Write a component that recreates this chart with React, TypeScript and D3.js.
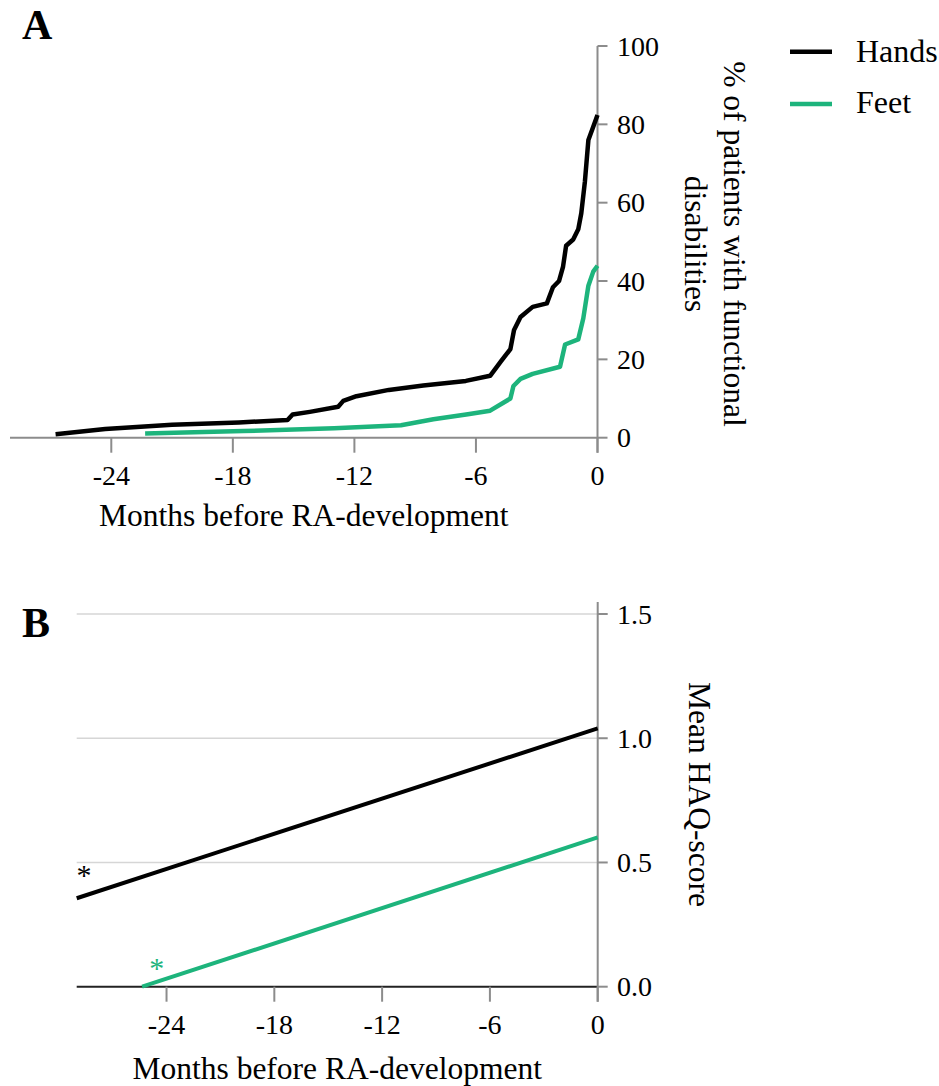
import * as d3 from 'd3';

// Panel A: cumulative % of patients with functional disabilities
const handsMonths = [-26.75, -24.3, -21, -17.7, -15.3, -15.05, -14.2, -12.8, -12.55, -11.9, -10.3, -8.6, -6.5, -5.3, -4.75, -4.3, -4.12, -3.8, -3.2, -2.5, -2.2, -1.9, -1.7, -1.55, -1.2, -0.95, -0.8, -0.62, -0.45, -0.21, 0];
const handsPct = [0.9, 2.2, 3.3, 3.9, 4.5, 5.9, 6.6, 7.9, 9.4, 10.6, 12.2, 13.3, 14.5, 15.8, 19.6, 22.6, 27.5, 30.8, 33.4, 34.3, 38.4, 40.0, 43.7, 49.0, 50.6, 53.2, 57.3, 65.5, 76.0, 79.4, 82.4];

const feetMonths = [-22.33, -17.5, -13, -9.7, -8.1, -6.4, -5.3, -4.3, -4.15, -3.8, -3.2, -1.85, -1.6, -0.95, -0.7, -0.45, -0.21, 0];
const feetPct = [1.1, 1.7, 2.4, 3.2, 4.7, 6.0, 6.9, 10.0, 13.2, 15.0, 16.3, 18.1, 23.8, 25.1, 30.5, 38.8, 42.4, 43.9];

// Panel B: fitted mean HAQ-score
const haqHandsMonths = [-29, 0];
const haqHands = [0.356, 1.04];
const haqFeetMonths = [-25.36, 0];
const haqFeet = [0, 0.601];

// significance markers (month, score)
const starMonths = [-28.6, -24.55];
const starScores = [0.41, 0.035];

const monthTicks = [-24, -18, -12, -6, 0];
const pctTicks = [0, 20, 40, 60, 80, 100];
const haqTicks = [0, 0.5, 1.0, 1.5];

const GREEN = '#1db47c';
const AXIS = '#8c8c8c';
const FONT = '"Liberation Serif", "Times New Roman", serif';

export default function App() {
  const xA = d3.scaleLinear().domain([-29, 0]).range([10, 597.5]);
  const yA = d3.scaleLinear().domain([0, 100]).range([437.7, 46]);
  const xB = d3.scaleLinear().domain([-29, 0]).range([76.7, 597.7]);
  const yB = d3.scaleLinear().domain([0, 1.5]).range([986.7, 614]);

  const handsPath = d3.line<number>()
    .x((d) => xA(d))
    .y((_, i) => yA(handsPct[i]))(handsMonths);
  const feetPath = d3.line<number>()
    .x((d) => xA(d))
    .y((_, i) => yA(feetPct[i]))(feetMonths);
  const haqHandsPath = d3.line<number>()
    .x((d) => xB(d))
    .y((_, i) => yB(haqHands[i]))(haqHandsMonths);
  const haqFeetPath = d3.line<number>()
    .x((d) => xB(d))
    .y((_, i) => yB(haqFeet[i]))(haqFeetMonths);

  const x0A = xA(0);
  const x0B = xB(0);

  return (
    <svg
      width={939}
      height={1086}
      style={{ position: 'absolute', left: 0, top: 0, background: '#fff' }}
      fontFamily={FONT}
    >
      {/* ---------- Panel A ---------- */}
      <text x={22} y={39} fontSize={42} fontWeight="bold">A</text>

      {/* x axis */}
      <line x1={xA(-29)} x2={x0A} y1={yA(0)} y2={yA(0)} stroke={AXIS} strokeWidth={2} />
      {monthTicks.map((t) => (
        <g key={'ax' + t}>
          <line x1={xA(t)} x2={xA(t)} y1={yA(0)} y2={yA(0) + 15} stroke={AXIS} strokeWidth={2} />
          <text x={xA(t)} y={485} fontSize={28} textAnchor="middle">{t}</text>
        </g>
      ))}
      <text x={(xA(-29) + x0A) / 2} y={526} fontSize={31.5} textAnchor="middle">Months before RA-development</text>

      {/* y axis on the right */}
      <line x1={x0A} x2={x0A} y1={yA(100)} y2={yA(0) + 15} stroke={AXIS} strokeWidth={2} />
      {pctTicks.map((t) => (
        <g key={'ay' + t}>
          <line x1={x0A} x2={x0A + 10} y1={yA(t)} y2={yA(t)} stroke={AXIS} strokeWidth={2} />
          <text x={617} y={yA(t)} dy="0.34em" fontSize={28}>{t}</text>
        </g>
      ))}
      <text transform={`translate(723.5,244) rotate(90)`} fontSize={31.5} textAnchor="middle">% of patients with functional</text>
      <text transform={`translate(685,244) rotate(90)`} fontSize={31.5} textAnchor="middle">disabilities</text>

      <path d={feetPath ?? ''} fill="none" stroke={GREEN} strokeWidth={4.5} strokeLinejoin="round" />
      <path d={handsPath ?? ''} fill="none" stroke="#000" strokeWidth={4.5} strokeLinejoin="round" />

      {/* legend */}
      <line x1={790} x2={832} y1={51.7} y2={51.7} stroke="#000" strokeWidth={4.5} />
      <text x={856} y={61.7} fontSize={32}>Hands</text>
      <line x1={790} x2={832} y1={104} y2={104} stroke={GREEN} strokeWidth={4.5} />
      <text x={856} y={113.3} fontSize={32}>Feet</text>

      {/* ---------- Panel B ---------- */}
      <text x={22} y={637} fontSize={42} fontWeight="bold">B</text>

      {haqTicks.filter((t) => t > 0).map((t) => (
        <line key={'g' + t} x1={xB(-29)} x2={x0B} y1={yB(t)} y2={yB(t)} stroke="#d6d6d6" strokeWidth={1.5} />
      ))}
      <line x1={xB(-29)} x2={x0B} y1={yB(0)} y2={yB(0)} stroke="#222" strokeWidth={2} />
      {monthTicks.map((t) => (
        <g key={'bx' + t}>
          <line x1={xB(t)} x2={xB(t)} y1={yB(0)} y2={yB(0) + 15} stroke={AXIS} strokeWidth={2} />
          <text x={xB(t)} y={1034} fontSize={28} textAnchor="middle">{t}</text>
        </g>
      ))}
      <text x={(xB(-29) + x0B) / 2} y={1079} fontSize={31.5} textAnchor="middle">Months before RA-development</text>

      <line x1={x0B} x2={x0B} y1={602} y2={yB(0) + 15} stroke={AXIS} strokeWidth={2} />
      {haqTicks.map((t) => (
        <g key={'by' + t}>
          <line x1={x0B} x2={x0B + 10} y1={yB(t)} y2={yB(t)} stroke={AXIS} strokeWidth={2} />
          <text x={617} y={yB(t)} dy="0.34em" fontSize={28}>{t.toFixed(1)}</text>
        </g>
      ))}
      <text transform={`translate(689,794.5) rotate(90)`} fontSize={31.5} textAnchor="middle">Mean HAQ-score</text>

      <path d={haqHandsPath ?? ''} fill="none" stroke="#000" strokeWidth={4} />
      <path d={haqFeetPath ?? ''} fill="none" stroke={GREEN} strokeWidth={4} />

      {starMonths.map((m, i) => (
        <text
          key={'s' + i}
          x={xB(m)}
          y={yB(starScores[i])}
          fontSize={30}
          textAnchor="middle"
          fill={i === 0 ? '#000' : GREEN}
        >
          *
        </text>
      ))}
    </svg>
  );
}
